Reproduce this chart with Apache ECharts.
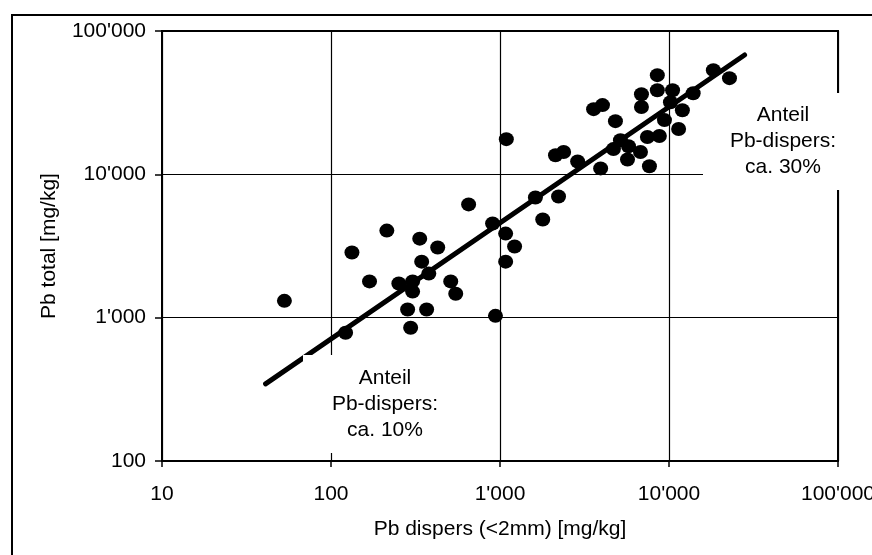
<!DOCTYPE html>
<html>
<head>
<meta charset="utf-8">
<script src="https://cdn.jsdelivr.net/npm/echarts@6/dist/echarts.min.js"></script>
<style>
html,body{margin:0;padding:0;background:#fff;}
#c{width:872px;height:555px;}
</style>
</head>
<body>
<div id="c"></div>
<script>
const pbDispers = [53,133,214,335,428,344,169,252,304,304,379,511,547,284,368,296,122,940,652,904,1080,1220,1080,1790,1090,2130,2380,2880,1620,2220,8530,8530,10500,6870,6870,3580,4040,4820,13900,10200,12000,9400,11400,3940,4690,5160,5760,5680,6780,7660,7450,8770,18300,22800];
const pbTotal = [1310,2850,4050,3560,3090,2460,1790,1730,1790,1520,2030,1790,1470,1140,1140,850,785,1030,6170,4540,3860,3140,2460,4840,17600,13600,14300,12300,6900,7000,49200,38600,38600,36200,29500,28500,30400,23500,36800,31800,28000,23900,20700,11000,15000,17300,15700,12700,14300,11400,18200,18500,53300,46900];
const trendX = [41, 28000];
const trendY = [345, 68000];
const xTitle = 'Pb dispers (<2mm) [mg/kg]';
const yTitle = 'Pb total [mg/kg]';
const label10 = 'Anteil\nPb-dispers:\nca. 10%';
const label30 = 'Anteil\nPb-dispers:\nca. 30%';

const FONT = '"Liberation Sans", Arial, sans-serif';
function fmt(v){ return String(Math.round(v)).replace(/\B(?=(\d{3})+(?!\d))/g, "'"); }

const chart = echarts.init(document.getElementById('c'), null, {renderer:'canvas'});
chart.setOption({
  animation:false,
  backgroundColor:'#fff',
  grid:{left:162,right:34,top:31,bottom:94,containLabel:false,outerBoundsMode:'none',show:true,borderColor:'#000',borderWidth:2,backgroundColor:'transparent'},
  xAxis:{
    type:'log', logBase:10, min:10, max:100000,
    name:xTitle, nameLocation:'middle', nameGap:58,
    nameTextStyle:{fontFamily:FONT,fontSize:21,color:'#000'},
    axisLine:{show:true,lineStyle:{color:'#000',width:2}},
    axisTick:{show:true,inside:false,length:6,lineStyle:{color:'#000',width:1.5}},
    axisLabel:{fontFamily:FONT,fontSize:21,color:'#000',margin:23,formatter:fmt,hideOverlap:false},
    splitLine:{show:true,lineStyle:{color:'#000',width:1.2}},
    minorTick:{show:false}
  },
  yAxis:{
    type:'log', logBase:10, min:100, max:100000,
    name:yTitle, nameLocation:'middle', nameGap:102,
    nameTextStyle:{fontFamily:FONT,fontSize:21,color:'#000'},
    axisLine:{show:true,lineStyle:{color:'#000',width:2}},
    axisTick:{show:true,inside:false,length:7,lineStyle:{color:'#000',width:1.5}},
    axisLabel:{fontFamily:FONT,fontSize:21,color:'#000',margin:16,formatter:fmt},
    splitLine:{show:true,lineStyle:{color:'#000',width:1.2}}
  },
  series:[
    {
      type:'line',
      data:trendX.map((x,i)=>[x,trendY[i]]),
      symbol:'none',
      lineStyle:{color:'#000',width:5,cap:'round'},
      z:3
    },
    {
      type:'scatter',
      data:pbDispers.map((x,i)=>[x,pbTotal[i]]),
      symbol:'circle',
      symbolSize:[15,14],
      itemStyle:{color:'#000',opacity:1},
      emphasis:{disabled:true},
      z:4
    }
  ],
  graphic:[
    {type:'rect',z:100,shape:{x:12,y:15,width:900,height:600},style:{fill:'none',stroke:'#000',lineWidth:2}},
    {type:'rect',z:100,shape:{x:303,y:355,width:162,height:98},style:{fill:'#fff',stroke:'none'}},
    {type:'text',z:101,x:385,y:404,style:{text:label10,font:'21px '+FONT,fill:'#000',textAlign:'center',textVerticalAlign:'middle',lineHeight:26}},
    {type:'rect',z:100,shape:{x:703,y:93,width:160,height:97},style:{fill:'#fff',stroke:'none'}},
    {type:'text',z:101,x:783,y:141,style:{text:label30,font:'21px '+FONT,fill:'#000',textAlign:'center',textVerticalAlign:'middle',lineHeight:26}}
  ]
});
</script>
</body>
</html>
